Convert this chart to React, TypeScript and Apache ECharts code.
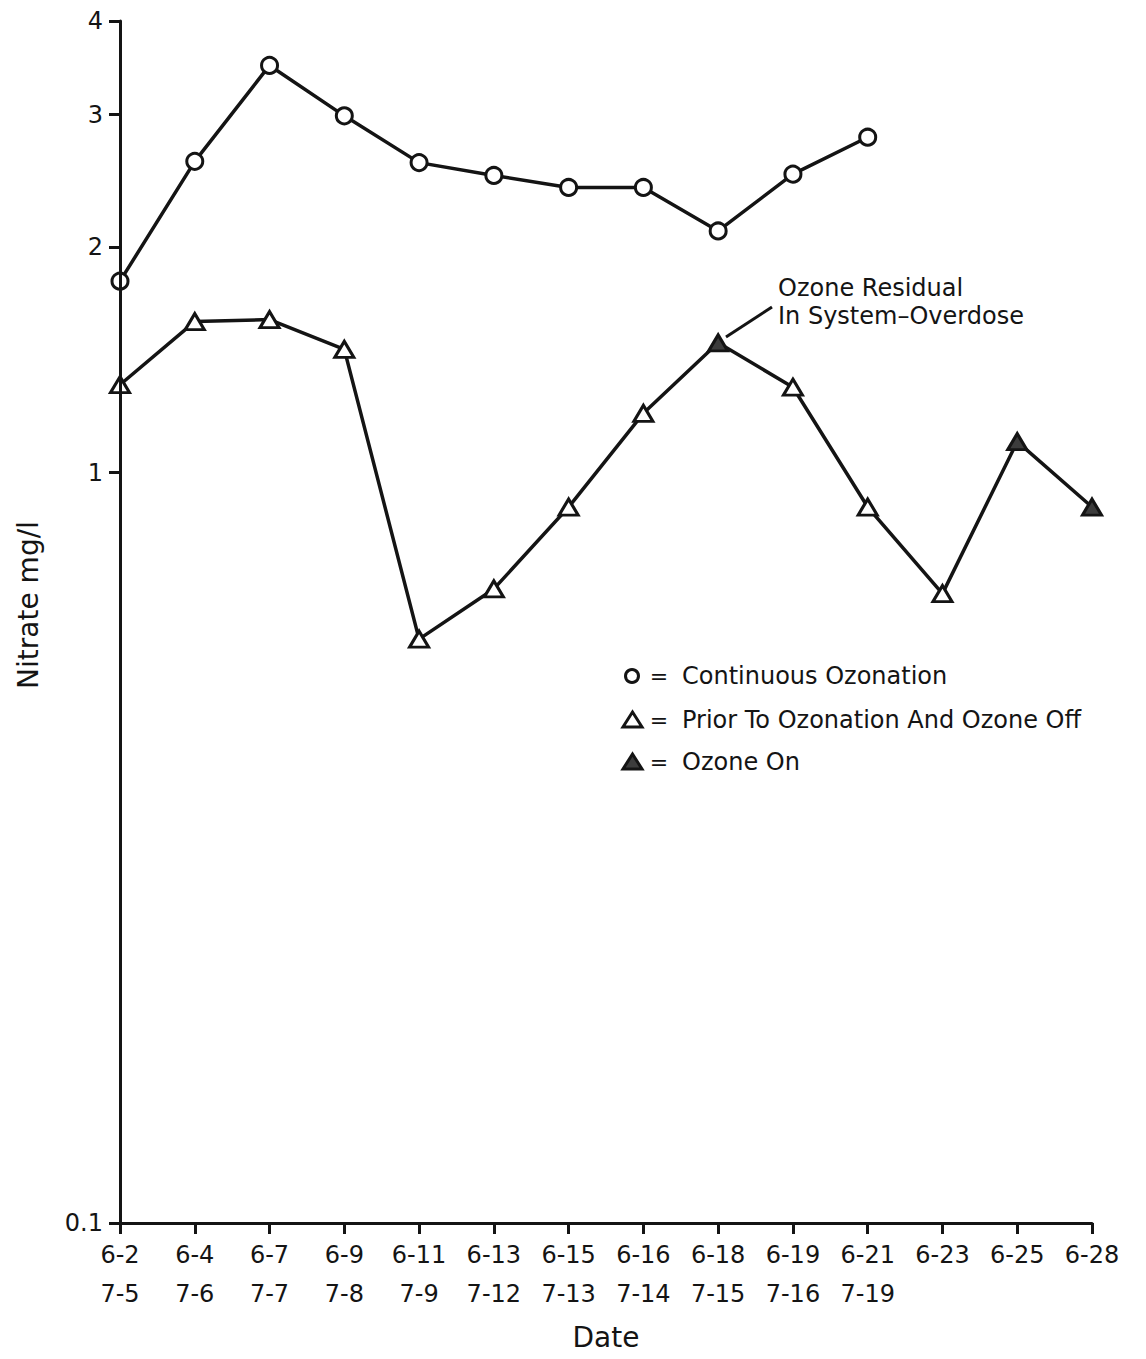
import React, { useEffect, useRef } from "react";
import * as echarts from "echarts";

// Sampling dates: first run (top row) and second run (bottom row)
const firstRunDates = ["6-2", "6-4", "6-7", "6-9", "6-11", "6-13", "6-15", "6-16", "6-18", "6-19", "6-21", "6-23", "6-25", "6-28"];
const secondRunDates = ["7-5", "7-6", "7-7", "7-8", "7-9", "7-12", "7-13", "7-14", "7-15", "7-16", "7-19"];

// Nitrate, mg/l
const continuousOzonation = [1.8, 2.6, 3.49, 2.99, 2.59, 2.49, 2.4, 2.4, 2.1, 2.5, 2.8];
const priorToOzonationAndOff = [1.31, 1.59, 1.6, 1.46, 0.6, 0.7, 0.9, 1.2, 1.49, 1.3, 0.9, 0.69, 1.1, 0.9];
const ozoneOnDates = ["6-18", "6-25", "6-28"];

const yTickValues = [0.1, 1, 2, 3, 4];

const INK = "#141414";
const FILL_ON = "#3c3c3c";
const FONT = "DejaVu Sans";

export default function App() {
  const ref = useRef<HTMLDivElement>(null);

  useEffect(() => {
    if (!ref.current) return;
    const chart = echarts.init(ref.current, undefined, { renderer: "svg" });

    const categories = firstRunDates.map((d, i) =>
      secondRunDates[i] ? `${d}\n${secondRunDates[i]}` : d
    );

    const triangleData = priorToOzonationAndOff.map((v, i) =>
      ozoneOnDates.includes(firstRunDates[i])
        ? { value: v, itemStyle: { color: FILL_ON, borderColor: INK } }
        : v
    );

    const legendRows = [
      { y: 676, symbol: "circle", filled: false, text: "Continuous Ozonation" },
      { y: 720, symbol: "triangle", filled: false, text: "Prior To Ozonation And Ozone Off" },
      { y: 762, symbol: "triangle", filled: true, text: "Ozone On" },
    ];

    const legendGraphics: any[] = [];
    legendRows.forEach((row) => {
      if (row.symbol === "circle") {
        legendGraphics.push({
          type: "circle",
          shape: { cx: 632, cy: row.y, r: 6.5 },
          style: { fill: "#fff", stroke: INK, lineWidth: 3 },
        });
      } else {
        legendGraphics.push({
          type: "polygon",
          shape: { points: [[623, row.y + 7], [642, row.y + 7], [632.5, row.y - 8]] },
          style: { fill: row.filled ? FILL_ON : "#fff", stroke: INK, lineWidth: 3, lineJoin: "miter" },
        });
      }
      legendGraphics.push({
        type: "text",
        x: 659,
        y: row.y,
        style: { text: "=", font: `22px '${FONT}'`, fill: INK, align: "center", verticalAlign: "middle" },
      });
      legendGraphics.push({
        type: "text",
        x: 682,
        y: row.y,
        style: { text: row.text, font: `24px '${FONT}'`, fill: INK, align: "left", verticalAlign: "middle" },
      });
    });

    chart.setOption({
      animation: false,
      backgroundColor: "#ffffff",
      textStyle: { fontFamily: FONT, color: INK },
      grid: { left: 120, right: 54, top: 21, bottom: 136, containLabel: false, outerBoundsMode: "none" },
      xAxis: {
        type: "category",
        data: categories,
        boundaryGap: false,
        name: "Date",
        nameLocation: "middle",
        nameGap: 100,
        nameTextStyle: { fontSize: 28, color: INK, fontFamily: FONT },
        axisLine: { lineStyle: { color: INK, width: 3 } },
        axisTick: { show: true, length: 11, lineStyle: { color: INK, width: 3 } },
        axisLabel: {
          interval: 0,
          fontSize: 24,
          lineHeight: 39,
          margin: 12,
          color: INK,
          fontFamily: FONT,
        },
        splitLine: { show: false },
      },
      yAxis: {
        type: "log",
        logBase: 10,
        min: 0.1,
        max: 4,
        z: 5,
        name: "Nitrate mg/l",
        nameLocation: "middle",
        nameGap: 78,
        nameRotate: 90,
        nameTextStyle: { fontSize: 28, color: INK, fontFamily: FONT, padding: [0, 0, 0, 34] },
        axisLine: { show: true, lineStyle: { color: INK, width: 3 } },
        axisTick: { show: true, length: 11, customValues: yTickValues, lineStyle: { color: INK, width: 3 } },
        axisLabel: {
          customValues: yTickValues,
          fontSize: 24,
          margin: 17,
          color: INK,
          fontFamily: FONT,
          formatter: (v: number) => String(v),
        },
        splitLine: { show: false },
        minorTick: { show: false },
      },
      series: [
        {
          name: "Continuous Ozonation",
          type: "line",
          data: continuousOzonation,
          symbol: "circle",
          symbolSize: 16,
          itemStyle: { color: "#fff", borderColor: INK, borderWidth: 3 },
          lineStyle: { color: INK, width: 3.5 },
          z: 3,
        },
        {
          name: "Prior To Ozonation And Ozone Off",
          type: "line",
          data: triangleData,
          symbol: "triangle",
          symbolSize: [19, 16],
          itemStyle: { color: "#fff", borderColor: INK, borderWidth: 3 },
          lineStyle: { color: INK, width: 3.5 },
          z: 3,
        },
      ],
      graphic: [
        {
          type: "line",
          shape: { x1: 726, y1: 337, x2: 772, y2: 307 },
          style: { stroke: INK, lineWidth: 3 },
        },
        {
          type: "text",
          x: 778,
          y: 302,
          style: {
            text: "Ozone Residual\nIn System\u2013Overdose",
            font: `24px '${FONT}'`,
            lineHeight: 28,
            fill: INK,
            align: "left",
            verticalAlign: "middle",
          },
        },
        ...legendGraphics,
      ],
    });

    return () => chart.dispose();
  }, []);

  return (
    <div
      ref={ref}
      style={{ position: "absolute", left: 0, top: 0, width: 1146, height: 1359 }}
    />
  );
}
